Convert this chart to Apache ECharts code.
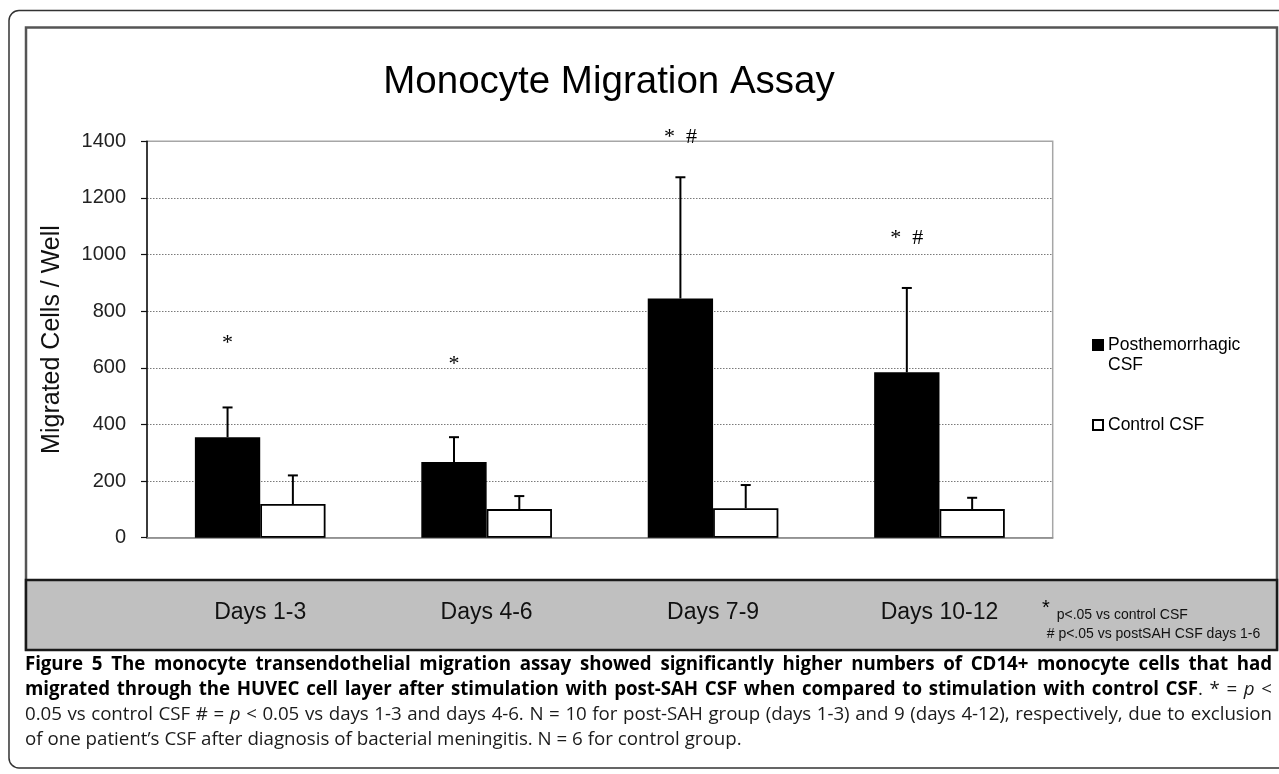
<!DOCTYPE html>
<html>
<head>
<meta charset="utf-8">
<script src="https://cdn.jsdelivr.net/npm/echarts@6/dist/echarts.min.js"></script>
<style>
  html, body { margin: 0; padding: 0; background: #fff; }
  #chart { position: absolute; left: 0; top: 0; width: 1279px; height: 774px; }
  #caption { position: absolute; left: 25px; top: 650px; width: 1247px;
    font-family: "Open Sans", sans-serif; font-size: 18.5px; line-height: 25px; color: #1a1a1a; }
  #caption .j { white-space: nowrap; text-align: justify; text-align-last: justify; }
  #caption .l { white-space: nowrap; }
  #caption b { color: #000; }
</style>
</head>
<body>
<div id="chart"></div>
<div id="caption">
  <div class="j"><b>Figure 5 The monocyte transendothelial migration assay showed significantly higher numbers of CD14+ monocyte cells that had</b></div>
  <div class="j"><b>migrated through the HUVEC cell layer after stimulation with post-SAH CSF when compared to stimulation with control CSF</b>. * = <i>p</i> &lt;</div>
  <div class="j">0.05 vs control CSF # = <i>p</i> &lt; 0.05 vs days 1-3 and days 4-6. N = 10 for post-SAH group (days 1-3) and 9 (days 4-12), respectively, due to exclusion</div>
  <div class="l">of one patient’s CSF after diagnosis of bacterial meningitis. N = 6 for control group.</div>
</div>
<script>
// ---- data ----
const categories = ['Days 1-3', 'Days 4-6', 'Days 7-9', 'Days 10-12'];
const postValues = [355, 267, 845, 584];
const postErrors = [105, 88, 428, 298];
const ctrlValues = [119, 101, 104, 101];
const ctrlErrors = [101, 46, 82, 40];
const yTicks = [0, 200, 400, 600, 800, 1000, 1200, 1400];
const annotCats = [0, 1, 2, 3];
const annotValues = [688, 612, 1414, 1059];
const annotTexts = ['*', '*', '*  #', '*  #'];
const seriesNames = ['Posthemorrhagic CSF', 'Control CSF'];

const CAT_GAP = 0.423;
const SANS = 'Liberation Sans, Arial, sans-serif';

function barCenterX(api, idx, val, sign) {
  const band = api.size([1, 0])[0];
  const bw = band * (1 - CAT_GAP) / 2;
  const c = api.coord([idx, val]);
  return [c[0] + sign * bw / 2, c[1]];
}

function errorSeries(name, values, errors, sign) {
  return {
    type: 'custom',
    name: name + ' SD',
    z: 5,
    silent: true,
    data: values.map((v, i) => [i, v, errors[i]]),
    encode: { x: 0, y: 1 },
    renderItem: function (params, api) {
      const idx = api.value(0), v = api.value(1), e = api.value(2);
      const base = barCenterX(api, idx, v, sign);
      const top = api.coord([idx, v + e])[1];
      const st = { stroke: '#000', lineWidth: 2 };
      return {
        type: 'group',
        children: [
          { type: 'line', shape: { x1: base[0], y1: base[1], x2: base[0], y2: top }, style: st },
          { type: 'line', shape: { x1: base[0] - 5, y1: top, x2: base[0] + 5, y2: top }, style: st }
        ]
      };
    }
  };
}

const chart = echarts.init(document.getElementById('chart'), null, { renderer: 'canvas' });
chart.setOption({
  animation: false,
  backgroundColor: '#fff',
  title: {
    text: 'Monocyte Migration Assay',
    left: 604, top: 58, textAlign: 'center',
    textStyle: { fontFamily: SANS, fontSize: 38.5, fontWeight: 'normal', color: '#000' }
  },
  legend: {
    orient: 'vertical', left: 1092, top: 315, padding: 0,
    itemWidth: 10, itemHeight: 10, itemGap: 40,
    formatter: n => n === seriesNames[0] ? '\nPosthemorrhagic\nCSF' : n,
    textStyle: { fontFamily: SANS, fontSize: 17.5, lineHeight: 20, color: '#000' },
    data: [
      { name: seriesNames[0], icon: 'rect' },
      { name: seriesNames[1], icon: 'rect' }
    ]
  },
  grid: {
    left: 147, right: 226.3, top: 141.3, bottom: 236.3,
    show: true, borderColor: '#a6a6a6', borderWidth: 1.5, backgroundColor: 'transparent'
  },
  xAxis: {
    type: 'category', data: categories,
    axisTick: { show: false },
    axisLine: { lineStyle: { color: '#8c8c8c', width: 1.5 } },
    axisLabel: { margin: 63, fontFamily: SANS, fontSize: 23, color: '#111' },
    splitLine: { show: false }
  },
  yAxis: {
    type: 'value', min: yTicks[0], max: yTicks[yTicks.length - 1], interval: 200,
    name: 'Migrated Cells / Well', nameLocation: 'middle', nameGap: 82,
    nameTextStyle: { fontFamily: SANS, fontSize: 25, color: '#111' },
    axisLine: { show: true, lineStyle: { color: '#111', width: 1.5 } },
    axisTick: { show: true, inside: false, length: 6, lineStyle: { color: '#111', width: 1.2 } },
    axisLabel: { margin: 21, fontFamily: SANS, fontSize: 20, color: '#222',
      formatter: v => String(v) },
    splitLine: { show: true, showMinLine: false, showMaxLine: false,
      lineStyle: { color: '#7a7a7a', width: 1, type: [1.5, 1.5] } }
  },
  series: [
    {
      type: 'bar', name: seriesNames[0], data: postValues,
      barGap: '0%', barCategoryGap: (CAT_GAP * 100) + '%',
      itemStyle: { color: '#000', borderColor: '#000', borderWidth: 1.5 }, z: 3
    },
    {
      type: 'bar', name: seriesNames[1], data: ctrlValues,
      barGap: '0%', barCategoryGap: (CAT_GAP * 100) + '%',
      itemStyle: { color: '#fff', borderColor: '#000', borderWidth: 1.8 }, z: 3
    },
    errorSeries(seriesNames[0], postValues, postErrors, -1),
    errorSeries(seriesNames[1], ctrlValues, ctrlErrors, 1),
    {
      type: 'custom', name: 'significance', silent: true, z: 6,
      data: annotCats.map((c, i) => [c, annotValues[i], i]),
      encode: { x: 0, y: 1 },
      renderItem: function (params, api) {
        const p = barCenterX(api, api.value(0), api.value(1), -1);
        return {
          type: 'text',
          style: {
            x: p[0], y: p[1], text: annotTexts[api.value(2)],
            fill: '#000', font: '22px "Liberation Serif", "Times New Roman", serif',
            align: 'center', verticalAlign: 'middle'
          }
        };
      }
    }
  ],
  graphic: [
    { type: 'rect', z: -10, silent: true,
      shape: { x: 9, y: 10.5, width: 1290, height: 757.5, r: 10 },
      style: { fill: 'none', stroke: '#333', lineWidth: 1.5 } },
    { type: 'rect', z: -9, silent: true,
      shape: { x: 26, y: 27.5, width: 1251, height: 622 },
      style: { fill: '#fff', stroke: '#555', lineWidth: 2.5 } },
    { type: 'rect', z: -8, silent: true,
      shape: { x: 26, y: 580, width: 1251, height: 70 },
      style: { fill: '#c0c0c0', stroke: '#1a1a1a', lineWidth: 2.5 } },
    { type: 'text', z: 10, silent: true,
      style: { x: 1046, y: 608, text: '*', fill: '#000', font: '20px ' + SANS, align: 'center', verticalAlign: 'middle' } },
    { type: 'text', z: 10, silent: true,
      style: { x: 1056.7, y: 615, text: 'p<.05 vs control CSF', fill: '#111', font: '14px ' + SANS, align: 'left', verticalAlign: 'middle' } },
    { type: 'text', z: 10, silent: true,
      style: { x: 1046.7, y: 634, text: '# p<.05 vs postSAH CSF days 1-6', fill: '#111', font: '14px ' + SANS, align: 'left', verticalAlign: 'middle' } }
  ]
});

// ---- caption fitting (typography only) ----
function naturalWidth(div) {
  const span = document.createElement('span');
  span.style.whiteSpace = 'nowrap';
  while (div.firstChild) span.appendChild(div.firstChild);
  div.appendChild(span);
  const w = span.getBoundingClientRect().width;
  while (span.firstChild) div.insertBefore(span.firstChild, span);
  div.removeChild(span);
  return w;
}
function fitCaption() {
  const cap = document.getElementById('caption');
  const last = cap.querySelector('.l');
  const base = parseFloat(getComputedStyle(cap).fontSize);
  const w = naturalWidth(last);
  const target = 717;
  cap.style.fontSize = (base * target / w).toFixed(2) + 'px';
  cap.querySelectorAll('.j').forEach(div => {
    const nw = naturalWidth(div);
    const limit = 1238;
    if (nw > limit) {
      const chars = div.textContent.trim().length;
      div.style.letterSpacing = (-(nw - limit) / chars).toFixed(3) + 'px';
    }
  });
}
if (document.fonts && document.fonts.ready) {
  document.fonts.ready.then(fitCaption);
} else {
  fitCaption();
}
</script>
</body>
</html>
